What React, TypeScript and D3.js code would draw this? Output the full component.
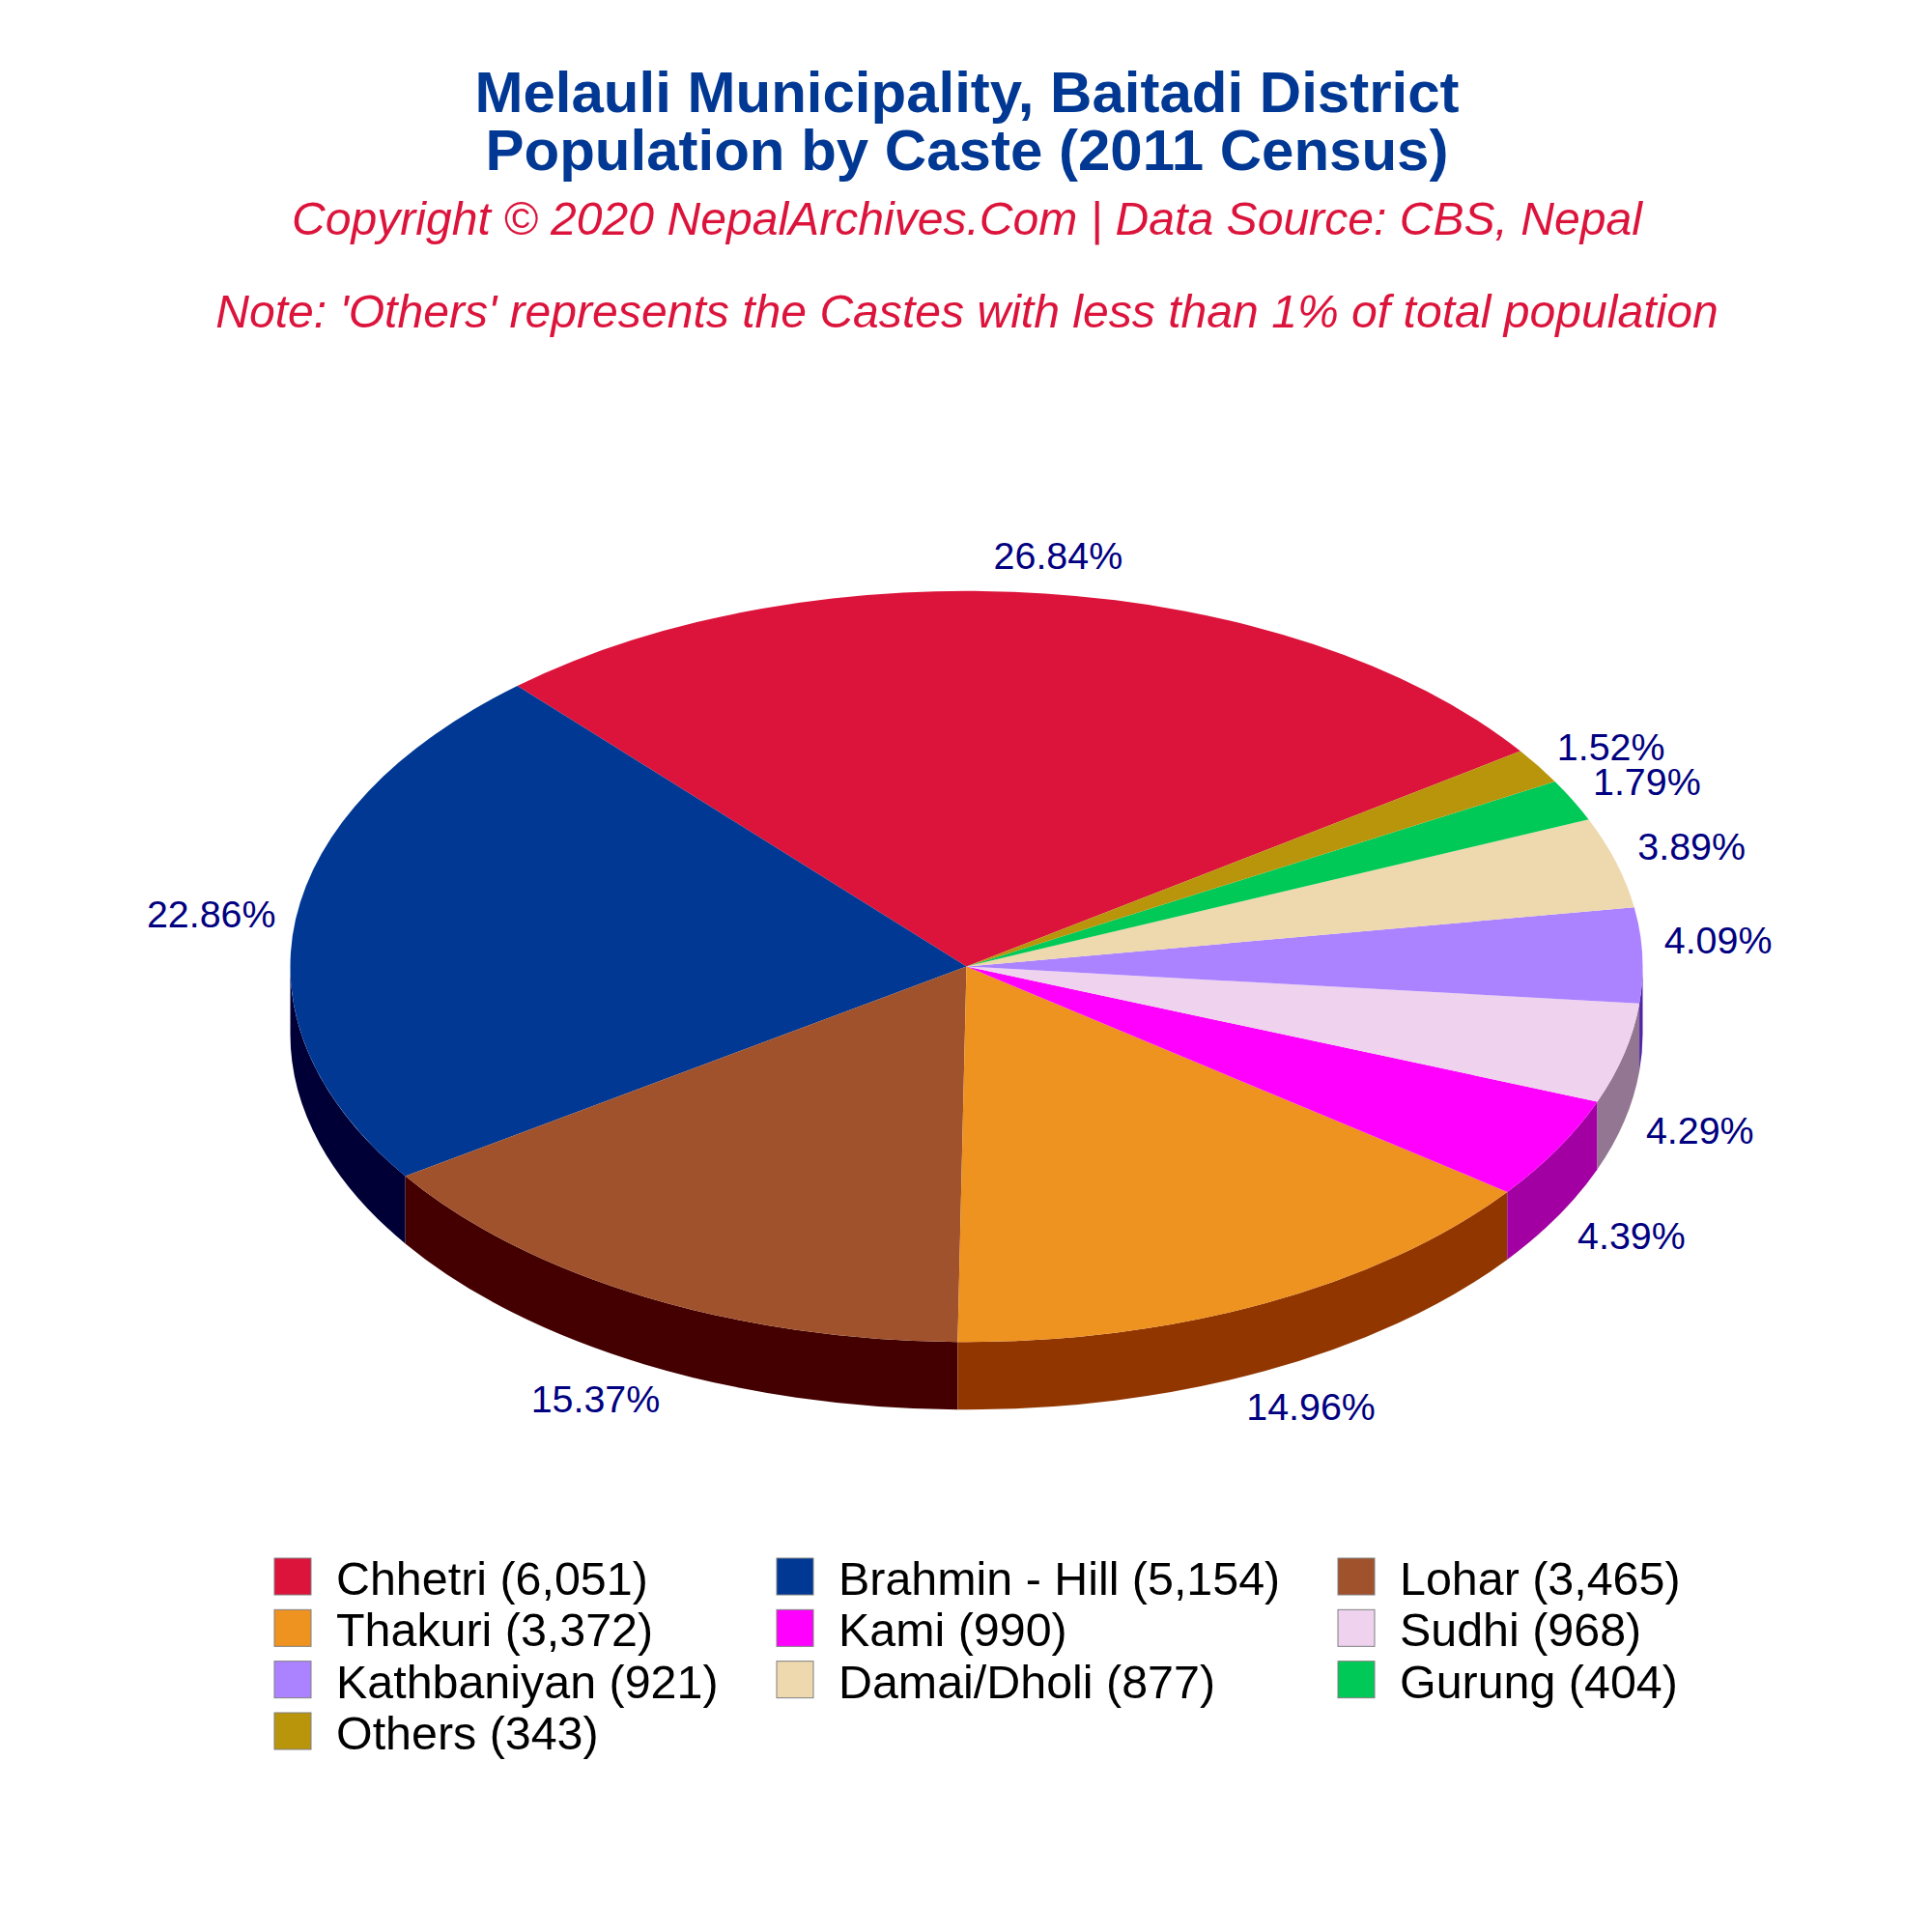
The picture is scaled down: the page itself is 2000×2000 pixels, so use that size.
import React from 'react';
import * as d3 from 'd3';

const castes = ['Chhetri', 'Brahmin - Hill', 'Lohar', 'Thakuri', 'Kami', 'Sudhi', 'Kathbaniyan', 'Damai/Dholi', 'Gurung', 'Others'];
const population = [6051, 5154, 3465, 3372, 990, 968, 921, 877, 404, 343];
const colors = ['#DC143C', '#003893', '#A0522D', '#EE9220', '#FF00FF', '#EED2EE', '#AB82FF', '#EED8AE', '#00C957', '#B8950A'];

const titleLines = ['Melauli Municipality, Baitadi District', 'Population by Caste (2011 Census)'];
const subtitle = 'Copyright © 2020 NepalArchives.Com | Data Source: CBS, Nepal';
const note = "Note: 'Others' represents the Castes with less than 1% of total population";

const FONT = '"Liberation Sans", Arial, sans-serif';
const cx = 1000.5;
const cy = 1000.5;
const rx = 700;
const ry = 388.7;
const depth = 70;
const startDeg = 35;

const deg = Math.PI / 180;
const total = d3.sum(population);
const fmtCount = d3.format(',');
const fmtPct = d3.format('.2f');

// slices run counter-clockwise from startDeg, d3 angles are clockwise from 12 o'clock
const pieGen = d3.pie<number>()
    .sort(null)
    .startAngle((90 - startDeg) * deg)
    .endAngle((90 - startDeg) * deg - 2 * Math.PI);
const arcs = pieGen(population);
const arcGen = d3.arc<d3.PieArcDatum<number>>().innerRadius(0).outerRadius(rx);

// math angle in degrees, counter-clockwise from 3 o'clock
const mathDeg = (a: number) => 90 - a / deg;

const edge = (theta: number) => [cx + rx * Math.cos(theta * deg), cy - ry * Math.sin(theta * deg)];

function wallPath(from: number, to: number, lo: number, hi: number) {
    const a = Math.max(from, lo);
    const b = Math.min(to, hi);
    if (a >= b) return null;
    const [x0, y0] = edge(a);
    const [x1, y1] = edge(b);
    return `M${x0},${y0}A${rx},${ry} 0 0 0 ${x1},${y1}L${x1},${y1 + depth}A${rx},${ry} 0 0 1 ${x0},${y0 + depth}Z`;
}

// the side is the slice colour minus a fixed amount per channel
function sideColor(c: string) {
    const r = d3.rgb(c);
    return d3.rgb(Math.max(0, r.r - 92), Math.max(0, r.g - 92), Math.max(0, r.b - 92)).formatHex();
}

// label centre for a slice, lower half labels sit below the side wall
function labelPos(mid: number) {
    const s = Math.sin(mid * deg);
    const c = Math.cos(mid * deg);
    let x = cx + (1.112 + 0.053 * s * s) * rx * c;
    let y = s < 0 ? cy - 1.105 * ry * s + depth : cy - 1.017 * ry * s - 15 - 18 * s ** 4;
    if (s >= 0 && c < 0) {
        x -= 9;
        y += 10;
    }
    return [x, y];
}

const legendX = d3.scaleOrdinal<number, number>().domain([0, 1, 2]).range([284, 804, 1385]);
const legendY = d3.scaleLinear().domain([0, 3]).range([1613, 1773]);

export default function App() {
    return (
        <svg width={2000} height={2000} viewBox="0 0 2000 2000"
            style={{ position: 'absolute', left: 0, top: 0, background: '#fff' }} fontFamily={FONT}>
            {titleLines.map((t, i) => (
                <text key={t} x={1001} y={116 + i * 60} textAnchor="middle" fontSize={60} fontWeight="bold" fill="#003893">{t}</text>
            ))}
            <text x={1001} y={243} textAnchor="middle" fontSize={48.1} fontStyle="italic" fill="#DC143C">{subtitle}</text>
            <text x={1001} y={339} textAnchor="middle" fontSize={48.1} fontStyle="italic" fill="#DC143C">{note}</text>

            <g>
                {arcs.map((d, i) => {
                    const a = mathDeg(d.startAngle);
                    const b = mathDeg(d.endAngle);
                    return [wallPath(a, b, 180, 360), wallPath(a, b, 540, 720)].map((p, j) =>
                        p && <path key={`${i}-${j}`} d={p} fill={sideColor(colors[i])} />);
                })}
            </g>
            <g transform={`translate(${cx},${cy}) scale(1,${ry / rx})`}>
                {arcs.map((d, i) => <path key={castes[i]} d={arcGen(d) as string} fill={colors[i]} />)}
            </g>
            <g>
                {arcs.map((d, i) => {
                    const [x, y] = labelPos(mathDeg((d.startAngle + d.endAngle) / 2));
                    return (
                        <text key={castes[i]} x={x} y={y} dy="0.35em" textAnchor="middle" fontSize={39.4} fill="#000080">
                            {fmtPct(population[i] / total * 100)}%
                        </text>
                    );
                })}
            </g>
            <g>
                {castes.map((c, i) => {
                    const x = legendX(i % 3);
                    const y = legendY(Math.floor(i / 3));
                    return (
                        <g key={c}>
                            <rect x={x} y={y} width={38} height={38} fill={colors[i]} stroke="#808080" strokeWidth={1} />
                            <text x={x + 64} y={y + 38} fontSize={48.4} fill="#000">{c} ({fmtCount(population[i])})</text>
                        </g>
                    );
                })}
            </g>
        </svg>
    );
}
